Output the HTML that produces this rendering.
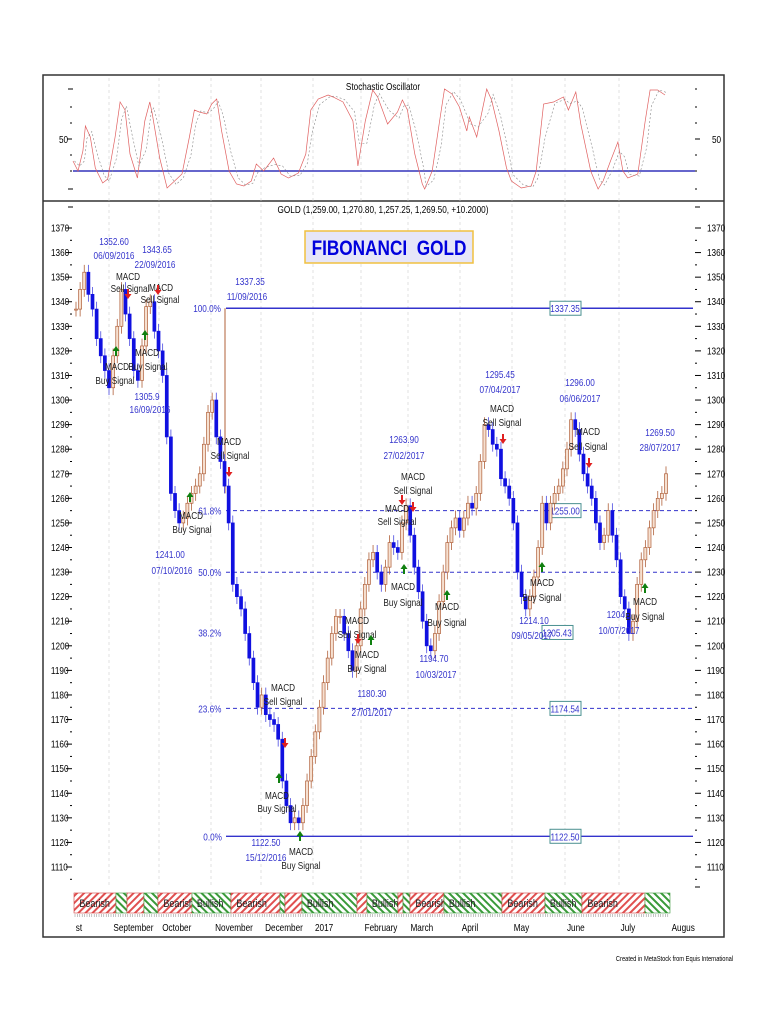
<!DOCTYPE html>
<html><head><meta charset="utf-8">
<style>
html,body{margin:0;padding:0;background:#fff;}
svg{display:block;font-family:"Liberation Sans",sans-serif;}
svg text{transform-box:fill-box;transform-origin:center;transform:scaleX(0.82);}
</style></head>
<body>
<svg id="chart" width="768" height="1024" viewBox="0 0 768 1024" xmlns="http://www.w3.org/2000/svg">
<defs>
<pattern id="hatchR" patternUnits="userSpaceOnUse" width="5" height="5" patternTransform="rotate(45)"><rect width="5" height="5" fill="#fff"/><rect width="2" height="5" fill="#e05050"/></pattern>
<pattern id="hatchG" patternUnits="userSpaceOnUse" width="5" height="5" patternTransform="rotate(-45)"><rect width="5" height="5" fill="#fff"/><rect width="2" height="5" fill="#3a9a3a"/></pattern>
</defs>
<rect x="43" y="75" width="681" height="862" fill="#fff" stroke="#333" stroke-width="1.5"/>
<line x1="43" y1="201" x2="724" y2="201" stroke="#333" stroke-width="1.5"/>
<g id="grid"></g>
<text x="383" y="90" font-size="10" text-anchor="middle">Stochastic Oscillator</text>
<g id="stoch"></g>
<text x="383" y="213" font-size="10" text-anchor="middle">GOLD (1,259.00, 1,270.80, 1,257.25, 1,269.50, +10.2000)</text>
<g>
<rect x="305" y="231" width="168" height="32" fill="#e6e6f8" stroke="#f0c040" stroke-width="1.5"/>
<text x="389" y="255" font-size="21" font-weight="bold" fill="#0000dd" text-anchor="middle">FIBONANCI&#160; GOLD</text>
</g>
<g id="axes"></g>
<g id="fib"></g>
<g id="price"></g>
<g id="notes"></g>
<g id="band"></g>
<g id="months"></g>
<text x="746" y="961" font-size="7" text-anchor="end">Created in MetaStock from Equis International</text>
</svg>
<script>
const closes=[1337,1345,1352,1343,1337,1325,1318,1312,1305,1318,1330,1345,1335,1325,1312,1308,1322,1338,1340,1328,1320,1310,1285,1262,1255,1250,1252,1258,1262,1265,1270,1282,1295,1300,1285,1275,1265,1250,1225,1220,1215,1205,1195,1185,1175,1180,1172,1170,1168,1162,1145,1135,1128,1130,1128,1135,1145,1155,1165,1175,1185,1195,1205,1212,1212,1205,1198,1190,1200,1215,1225,1235,1238,1230,1225,1232,1242,1240,1238,1250,1257,1245,1232,1222,1210,1200,1198,1205,1218,1230,1242,1248,1252,1247,1252,1258,1256,1262,1275,1290,1288,1282,1280,1268,1265,1260,1250,1230,1220,1215,1220,1228,1240,1258,1250,1258,1262,1265,1272,1280,1292,1288,1278,1270,1265,1260,1250,1242,1245,1255,1245,1235,1220,1215,1205,1210,1225,1235,1240,1248,1255,1260,1262,1270];
const stochDay=[0,2,4,5,7,9,12,14,17,19,21,23,26,29,31,32,35,38,41,44,47,49,51,54,56,58,60,63,66,69,72,74,77,81,84,87,91,94,96,99,103,105,109,113,115,118,121,123,127,131,133,135,138,141,142,145,148,150,153,156,159,160,163,167,169,172,175,177,181,185,187,190,194,198,200,203,205,209,212,214,217,220,222,224,228,231,233,236,239];
const stochK=[28,18,38,63,52,21,6,10,52,87,79,35,11,68,87,75,31,1,8,15,52,79,77,75,85,90,58,18,5,3,8,25,18,31,15,11,16,35,79,90,94,92,87,68,23,68,99,92,65,77,89,79,35,5,0,18,68,100,95,82,58,72,52,100,89,58,21,8,1,3,18,85,87,92,79,97,65,18,0,8,28,47,18,11,15,68,99,99,94];
const priceTicks=[1370,1360,1350,1340,1330,1320,1310,1300,1290,1280,1270,1260,1250,1240,1230,1220,1210,1200,1190,1180,1170,1160,1150,1140,1130,1120,1110];
const fibLevels=[1337.35,1255.00,1229.93,1205.43,1174.54,1122.50];
const fibPct=["100.0%","61.8%","50.0%","38.2%","23.6%","0.0%"];
const monthNames=["st","September","October","November","December","2017","February","March","April","May","June","July","Augus"];
const monthPos=[75,109,159,211,261,313,361,408,460,512,565,619,669];
const bandStart=[74,116,127,144,158,192,231,280,285,302,357,367,398,403,410,444,502,545,582,645];
const bandEnd=[116,127,144,158,192,231,280,285,302,357,367,398,403,410,444,502,545,582,645,670];
const bandType=["R","G","R","G","R","G","R","G","R","G","R","G","R","G","R","G","R","G","R","G"];
const bandLabel=["Bearish","","","","Bearish","Bullish","Bearish","","","Bullish","","Bullish","","","Bearish","Bullish","Bearish","Bullish","Bearish",""];

const NS="http://www.w3.org/2000/svg";
function mk(tag,attrs,parent,txt){const e=document.createElementNS(NS,tag);for(const k in attrs)e.setAttribute(k,attrs[k]);if(txt!==undefined)e.textContent=txt;parent.appendChild(e);return e;}
const yP=p=>228+(1370-p)*2.4577;
const yS=v=>189-v*1.0;
const X0=76,X1=666;
const xP=i=>X0+i*(X1-X0)/(closes.length-1);
const xS=d=>73+d*(665-73)/239;

const grid=document.getElementById('grid');
monthPos.slice(1,-1).forEach(x=>{
  const l=mk('line',{x1:x,y1:78,x2:x,y2:888,stroke:'#ccc','stroke-dasharray':'3,3','stroke-width':0.6},grid);
  
  
});

const st=document.getElementById('stoch');
const s50=mk('text',{x:58,y:143,'font-size':10},st,'50');


mk('line',{x1:67,y1:yS(50),x2:72,y2:yS(50),stroke:'#000'},st);
const s50r=mk('text',{x:711,y:143,'font-size':10},st,'50');


[100,82,66,34,18,0].forEach(v=>{mk('line',{x1:70,y1:yS(v),x2:72,y2:yS(v),stroke:'#000'},st);mk('line',{x1:695,y1:yS(v),x2:697,y2:yS(v),stroke:'#000'},st);});
mk('line',{x1:68,y1:yS(100),x2:73,y2:yS(100),stroke:'#000'},st);
mk('line',{x1:68,y1:yS(0),x2:73,y2:yS(0),stroke:'#000'},st);
mk('line',{x1:695,y1:yS(50),x2:700,y2:yS(50),stroke:'#000'},st);
const sref=mk('line',{x1:73,y1:yS(18),x2:695,y2:yS(18),stroke:'#3333bb','stroke-width':1.6},st);


let dK='',dD='';
stochK.forEach((v,i)=>{dK+=(i?'L':'M')+xS(stochDay[i]).toFixed(1)+','+yS(v).toFixed(1);});
const sk=mk('path',{d:dK,fill:'none',stroke:'#e06060','stroke-width':0.7},st);


stochK.forEach((v,i)=>{const a=stochK[Math.max(0,i-1)];const m=(v+a)/2;dD+=(i?'L':'M')+(xS(stochDay[i])+1.5).toFixed(1)+','+yS(m).toFixed(1);});
const sd=mk('path',{d:dD,fill:'none',stroke:'#888','stroke-width':0.6,'stroke-dasharray':'2,2'},st);



const ax=document.getElementById('axes');
priceTicks.forEach(p=>{
  const y=yP(p);
  const t=mk('text',{x:49,y:y+3.5,'font-size':10},ax,String(p));
  
  
  mk('line',{x1:66,y1:y,x2:72,y2:y,stroke:'#000'},ax);
  mk('line',{x1:70,y1:y+12.3,x2:72,y2:y+12.3,stroke:'#000'},ax);
  const t2=mk('text',{x:705,y:y+3.5,'font-size':10},ax,String(p));
  
  
  mk('line',{x1:695,y1:y,x2:701,y2:y,stroke:'#000'},ax);
  mk('line',{x1:695,y1:y+12.3,x2:697,y2:y+12.3,stroke:'#000'},ax);
});
mk('line',{x1:68,y1:207,x2:73,y2:207,stroke:'#000'},ax);
mk('line',{x1:695,y1:207,x2:700,y2:207,stroke:'#000'},ax);
mk('line',{x1:695,y1:887,x2:700,y2:887,stroke:'#000'},ax);

const fb=document.getElementById('fib');
const fibBoxX=[565,565,null,557,565,565];
fibLevels.forEach((p,i)=>{
  const y=yP(p);
  if(i!==3){
    const solid=(i===0||i===5);
    const l=mk('line',{x1:226,y1:y,x2:693,y2:y,stroke:'#3333cc','stroke-width':solid?1.4:1.1,'stroke-dasharray':solid?'none':'4,3'},fb);
    
    
  }
  const t=mk('text',{x:224,y:y+4,'font-size':10,fill:'#3333cc','text-anchor':'end'},fb,fibPct[i]);
  
  
  if(i!==2){
    const bx=fibBoxX[i];const by=y;
    mk('rect',{x:bx-15,y:by-7,width:31,height:14,fill:'#fff',stroke:'#4a9090','stroke-width':1},fb);
    const v=mk('text',{x:bx,y:by+4,'font-size':10,fill:'#3333cc','text-anchor':'middle'},fb,p.toFixed(2));
    
    
  }
});
mk('line',{x1:225,y1:yP(1337.35),x2:225,y2:yP(1262),stroke:'#b0603a','stroke-width':1},fb);

const pr=document.getElementById('price');
closes.forEach((c,i)=>{
  const o=i?closes[i-1]:c;
  const up=c>=o;
  const x=xP(i);
  const hi=Math.max(o,c)+3,lo=Math.min(o,c)-3;
  mk('line',{x1:x,y1:yP(hi),x2:x,y2:yP(lo),stroke:up?'#b0603a':'#4a4ae0','stroke-width':0.8},pr);
  const b=mk('rect',{x:x-1.5,y:yP(Math.max(o,c)),width:3,height:Math.max(1,Math.abs(yP(o)-yP(c))),fill:up?'#f6e0d0':'#1010e0',stroke:up?'#b0603a':'#1010e0','stroke-width':0.7},pr);
  
  
});

const nt=document.getElementById('notes');
const blue=[["1352.60",114,245],["06/09/2016",114,259],["1343.65",157,253],["22/09/2016",155,268],["1337.35",250,285],["11/09/2016",247,300],["1305.9",147,400],["16/09/2016",150,413],["1241.00",170,558],["07/10/2016",172,574],["1263.90",404,443],["27/02/2017",404,459],["1295.45",500,378],["07/04/2017",500,393],["1296.00",580,386],["06/06/2017",580,402],["1269.50",660,436],["28/07/2017",660,451],["1180.30",372,697],["27/01/2017",372,716],["1194.70",434,662],["10/03/2017",436,678],["1214.10",534,624],["09/05/2017",532,639],["1204.",617,618],["10/07/2017",619,634],["1122.50",266,846],["15/12/2016",266,861]];
blue.forEach(a=>{const t=mk('text',{x:a[1],y:a[2],'font-size':10,fill:'#3333cc','text-anchor':'middle'},nt,a[0]);

});
const blk=[["MACD",128,280],["Sell Signal",130,292],["MACD",161,291],["Sell Signal",160,303],["MACD",117,370],["Buy Signal",115,384],["MACD",147,356],["Buy Signal",148,370],["MACD",229,445],["Sell Signal",230,459],["MACD",191,519],["Buy Signal",192,533],["MACD",283,691],["Sell Signal",283,705],["MACD",277,799],["Buy Signal",277,812],["MACD",301,855],["Buy Signal",301,869],["MACD",357,624],["Sell Signal",357,638],["MACD",367,658],["Buy Signal",367,672],["MACD",397,512],["Sell Signal",397,525],["MACD",413,480],["Sell Signal",413,494],["MACD",403,590],["Buy Signal",403,606],["MACD",447,610],["Buy Signal",447,626],["MACD",502,412],["Sell Signal",502,426],["MACD",542,586],["Buy Signal",542,601],["MACD",588,435],["Sell Signal",588,450],["MACD",645,605],["Buy Signal",645,620]];
blk.forEach(a=>{const t=mk('text',{x:a[1],y:a[2],'font-size':10,fill:'#222','text-anchor':'middle'},nt,a[0]);

});
const arrowsDn=[[128,297],[158,293],[229,475],[285,746],[402,503],[413,510],[503,442],[589,466],[358,642]];
const arrowsUp=[[116,348],[145,332],[190,494],[279,775],[300,833],[404,566],[447,592],[542,564],[645,585],[371,637]];
arrowsDn.forEach(a=>{const p=mk('path',{d:`M${a[0]-1},${a[1]-8}h2v5h2.5l-3.5,5l-3.5,-5h2.5z`,fill:'#e02020'},nt);

});
arrowsUp.forEach(a=>{const p=mk('path',{d:`M${a[0]-1},${a[1]+8}h2v-5h2.5l-3.5,-5l-3.5,5h2.5z`,fill:'#108010'},nt);

});

const bd=document.getElementById('band');
bandStart.forEach((s,i)=>{
  const r=mk('rect',{x:s,y:893,width:bandEnd[i]-s,height:20,fill:bandType[i]==='R'?'url(#hatchR)':'url(#hatchG)',stroke:bandType[i]==='R'?'#d04040':'#3a9a3a','stroke-width':0.6},bd);
  
  
  if(bandLabel[i]){const t=mk('text',{x:s+2,y:907,'font-size':11,fill:'#222'},bd,bandLabel[i]);
  
  }
});
for(let x=75;x<670;x+=2.4){mk('line',{x1:x,y1:914,x2:x,y2:917,stroke:'#888','stroke-width':0.5},bd);}

const mo=document.getElementById('months');
monthNames.forEach((m,i)=>{const t=mk('text',{x:monthPos[i],y:931,'font-size':10},mo,m);

});
</script>
</body></html>
